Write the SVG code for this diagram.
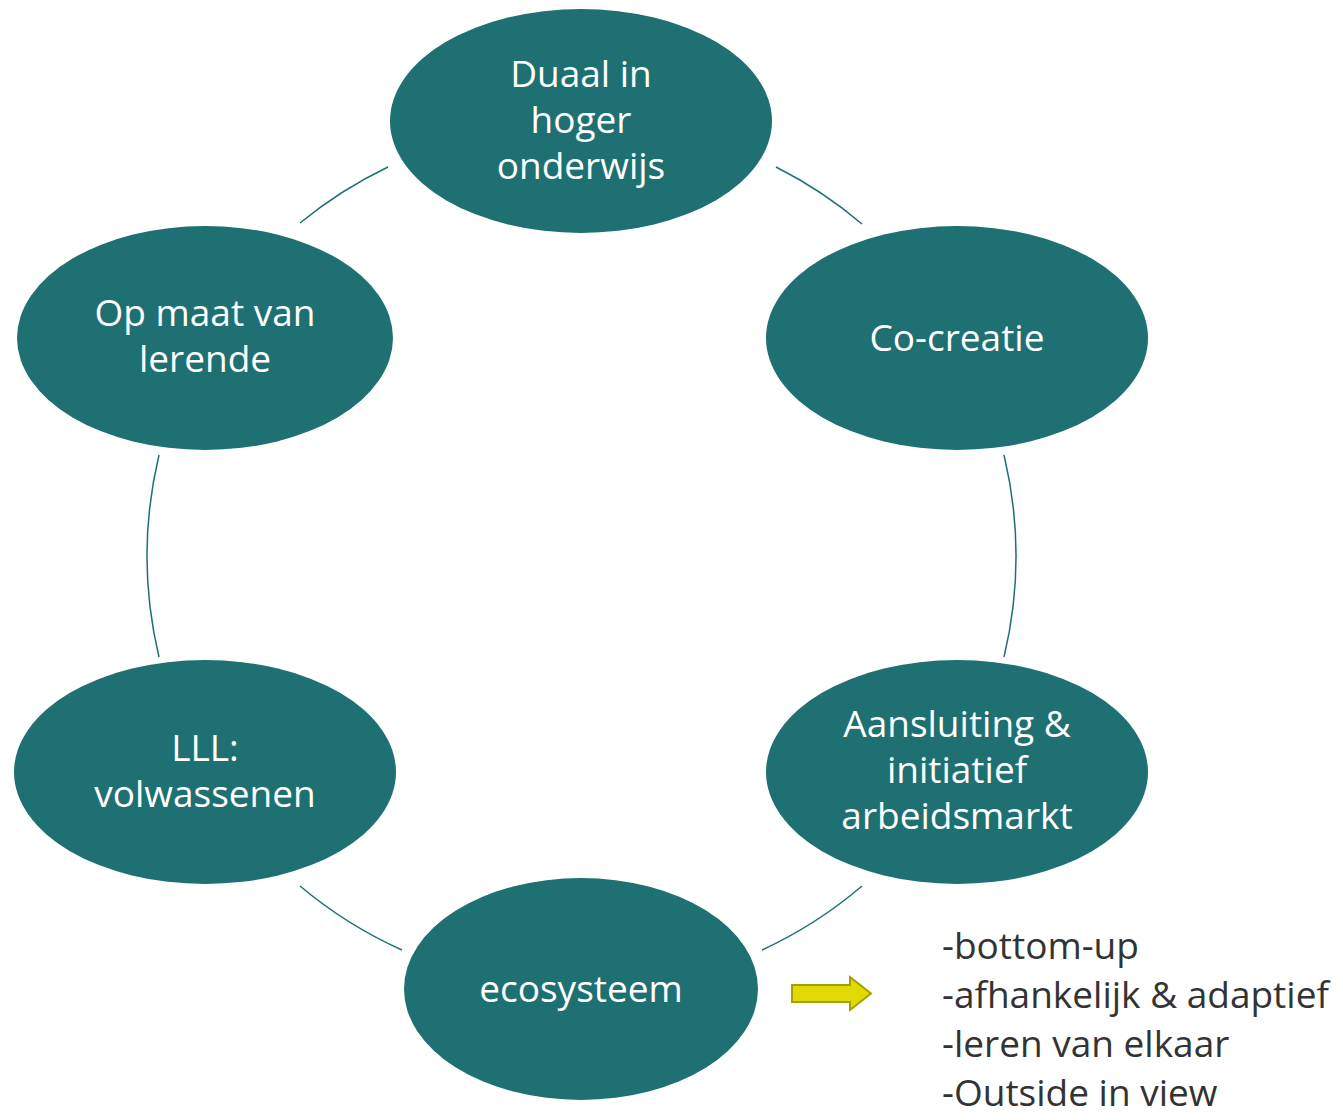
<svg xmlns="http://www.w3.org/2000/svg" width="1343" height="1120" viewBox="0 0 1343 1120">
<style>
.node{fill:#1e7072;}
.lbl{fill:#ffffff;font-family:"Open Sans","Liberation Sans",sans-serif;font-size:37px;text-anchor:middle;}
.conn{fill:none;stroke:#1e7072;stroke-width:1.5;}
.note{fill:#333333;font-family:"Open Sans","Liberation Sans",sans-serif;font-size:37px;}
</style>
<rect width="1343" height="1120" fill="#ffffff"/>
<g id="connectors">
<path class="conn" d="M300,223 A435,435 0 0 1 388,167"/>
<path class="conn" d="M776,167 A435,435 0 0 1 862,224"/>
<path class="conn" d="M1004,455 A435,435 0 0 1 1004,657"/>
<path class="conn" d="M862,886 A435,435 0 0 1 762,950"/>
<path class="conn" d="M402,950 A435,435 0 0 1 300,886"/>
<path class="conn" d="M159,657 A435,435 0 0 1 159,455"/>
</g>
<g id="node-duaal">
<ellipse class="node" cx="581" cy="121" rx="191" ry="112"/>
<text class="lbl" x="581" y="87">Duaal in</text>
<text class="lbl" x="581" y="133">hoger</text>
<text class="lbl" x="581" y="179">onderwijs</text>
</g>
<g id="node-cocreatie">
<ellipse class="node" cx="957" cy="338" rx="191" ry="112"/>
<text class="lbl" x="957" y="351">Co-creatie</text>
</g>
<g id="node-aansluiting">
<ellipse class="node" cx="957" cy="772" rx="191" ry="112"/>
<text class="lbl" x="957" y="737">Aansluiting &amp;</text>
<text class="lbl" x="957" y="783">initiatief</text>
<text class="lbl" x="957" y="829">arbeidsmarkt</text>
</g>
<g id="node-ecosysteem">
<ellipse class="node" cx="581" cy="989" rx="177" ry="111"/>
<text class="lbl" x="581" y="1002">ecosysteem</text>
</g>
<g id="node-lll">
<ellipse class="node" cx="205" cy="772" rx="191" ry="112"/>
<text class="lbl" x="205" y="761">LLL:</text>
<text class="lbl" x="205" y="807">volwassenen</text>
</g>
<g id="node-opmaat">
<ellipse class="node" cx="205" cy="338" rx="188" ry="112"/>
<text class="lbl" x="205" y="326">Op maat van</text>
<text class="lbl" x="205" y="372">lerende</text>
</g>
<g id="arrow">
<path d="M792,985 L850,985 L850,977 L871,993.5 L850,1010 L850,1002 L792,1002 Z" fill="#e2d900" stroke="#a3a000" stroke-width="2"/>
</g>
<g id="notes">
<text class="note" x="942" y="959">-bottom-up</text>
<text class="note" x="942" y="1008">-afhankelijk &amp; adaptief</text>
<text class="note" x="942" y="1057">-leren van elkaar</text>
<text class="note" x="942" y="1106">-Outside in view</text>
</g>
</svg>
